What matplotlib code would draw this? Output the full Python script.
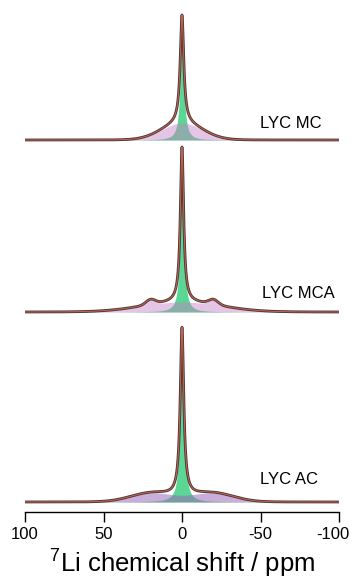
import numpy as np
import matplotlib
matplotlib.use("Agg")
import matplotlib.pyplot as plt
import matplotlib.transforms as mtransforms

plt.rcParams['font.family'] = ['Liberation Sans', 'DejaVu Sans']
plt.rcParams['mathtext.fontset'] = 'custom'
plt.rcParams['mathtext.rm'] = 'Liberation Sans'

# 7Li MAS NMR fits: (center ppm, fwhm ppm, height a.u.)
samples = ["LYC MC", "LYC MCA", "LYC AC"]

narrow_mc = [(0.0, 2.7, 108.0)]
broad_mc = [(0.0, 30.0, 17.0)]

narrow_mca = [(0.0, 2.5, 155.0)]
broad_mca = [(0.0, 58.0, 10.0), (20.0, 7.0, 5.0), (-20.0, 7.0, 5.0)]

narrow_ac = [(0.0, 2.7, 168.0)]
broad_ac = [(19.0, 32.0, 9.0), (-19.0, 32.0, 9.0)]

ppm = np.linspace(100, -100, 2001)


def lorentz(x, comps):
    y = np.zeros_like(x)
    for c, w, h in comps:
        y += h / (1 + ((x - c) / (w / 2)) ** 2)
    return y


def gauss(x, comps):
    y = np.zeros_like(x)
    for c, w, h in comps:
        y += h * np.exp(-4 * np.log(2) * ((x - c) / w) ** 2)
    return y


fig = plt.figure(figsize=(3.52, 5.81), dpi=100)
ax = fig.add_axes([25 / 352, 69 / 581, 314 / 352, 507 / 581])

spectra = [
    (narrow_mc, broad_mc, 372, '#c77fc7', 0.45, (-50, 389)),
    (narrow_mca, broad_mca, 200, '#c77fc7', 0.45, (-51, 219)),
    (narrow_ac, broad_ac, 10, '#9664b5', 0.52, (-50, 32)),
]

for name, (narrow, broad, base, pink, alpha, txt) in zip(samples, spectra):
    g = lorentz(ppm, narrow)
    b = gauss(ppm, broad)
    fit = g + b
    ax.fill_between(ppm, base, base + g, color='#5cd694', lw=0, zorder=1)
    ax.fill_between(ppm, base, base + b, color=pink, alpha=alpha, lw=0, zorder=2)
    ax.plot(ppm, base + fit, color='#3a3a3a', lw=2.0, zorder=3)
    ax.plot(ppm, base + fit, color='#e8604c', lw=0.8, alpha=0.85, zorder=4)
    ax.text(txt[0], txt[1], name, fontsize=12, ha='left', va='center')

ax.set_xlim(100, -100)
ax.set_ylim(0, 507)
ax.set_xticks([100, 50, 0, -50, -100])
ax.set_xticklabels(['100', '50', '0', '-50', '-100'])
ax.tick_params(axis='x', direction='out', length=7, width=1, labelsize=12, pad=4)
# keep the last tick label inside the canvas
last = ax.get_xticklabels()[-1]
last.set_transform(last.get_transform() + mtransforms.ScaledTranslation(-6 / 100, 0, fig.dpi_scale_trans))
ax.set_yticks([])
for s in ['top', 'right', 'left']:
    ax.spines[s].set_visible(False)
ax.spines['bottom'].set_linewidth(1)
ax.set_xlabel(r'$^{7}$Li chemical shift / ppm', fontsize=18.5, labelpad=3)

fig.savefig('out.png', dpi=100)
